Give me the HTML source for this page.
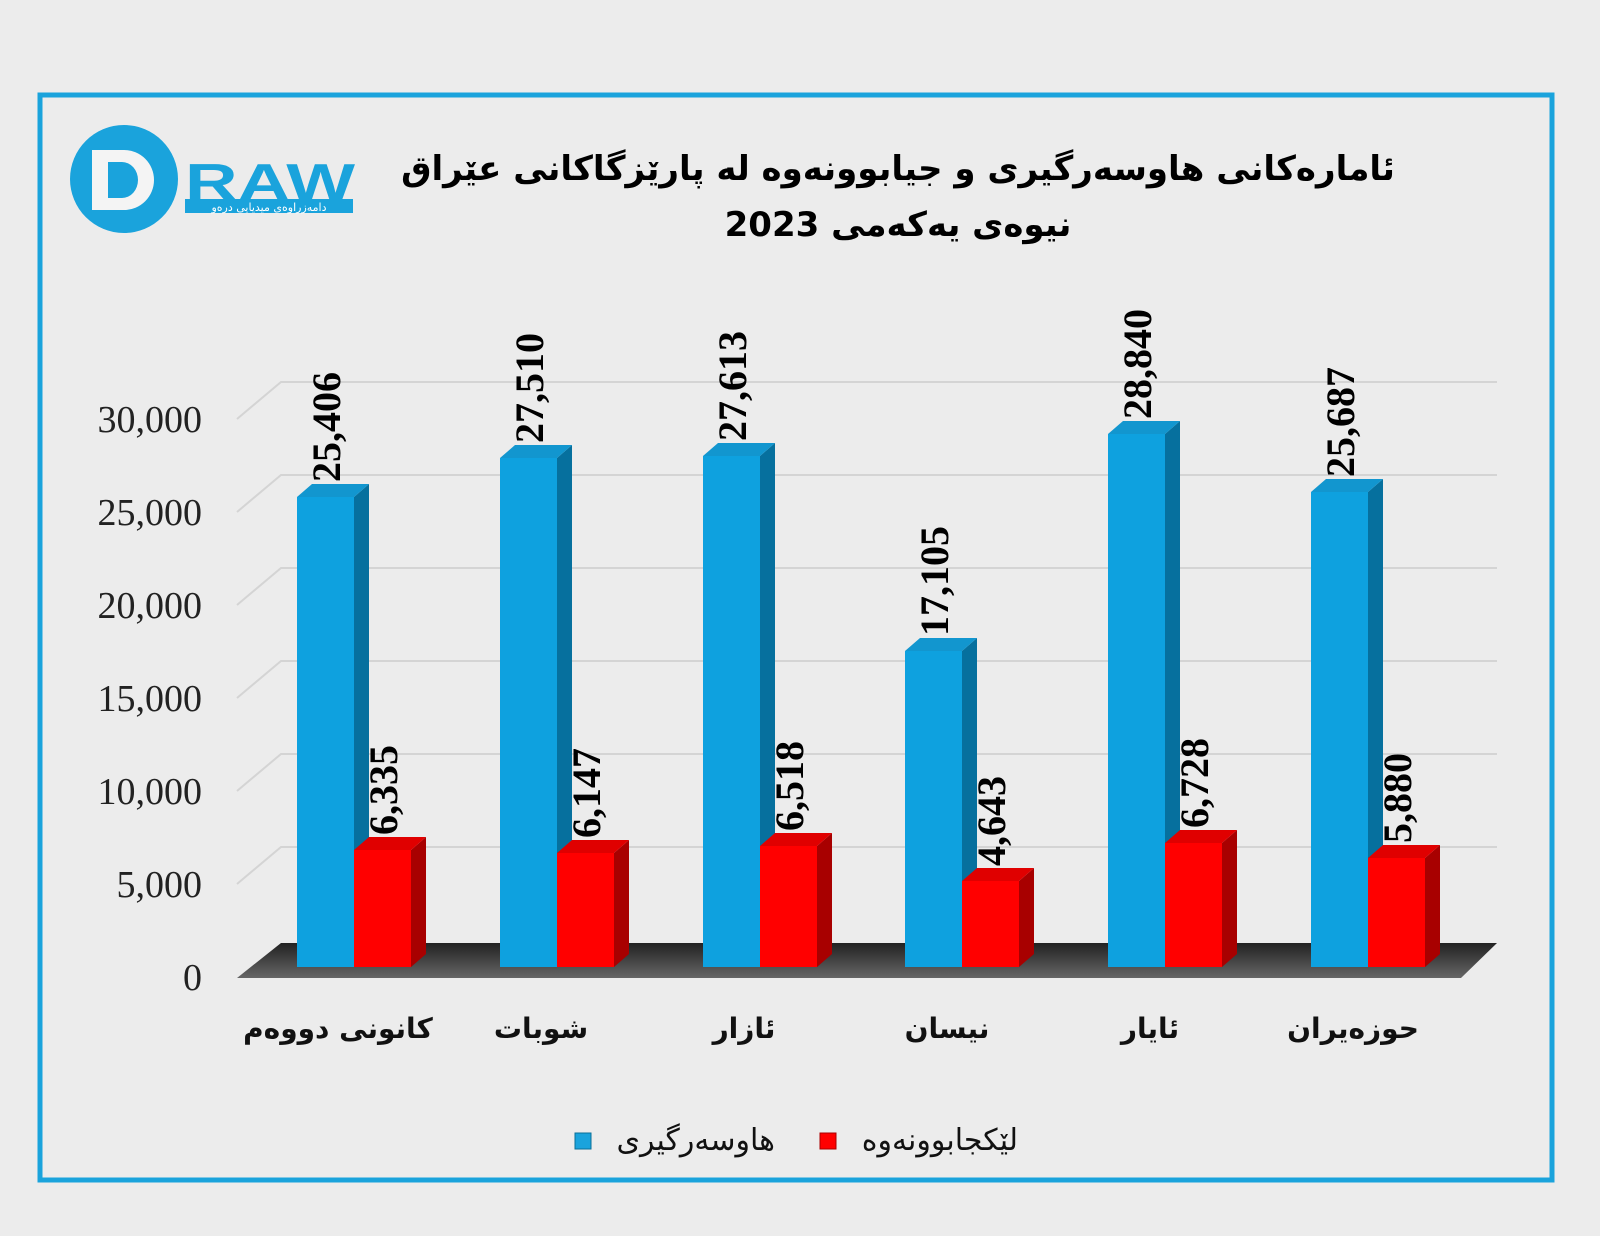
<!DOCTYPE html>
<html><head><meta charset="utf-8"><style>
html,body{margin:0;padding:0;background:#ececec;}
svg{display:block}
.ar{font-family:"DejaVu Sans","Liberation Sans","Noto Sans CJK SC",sans-serif;}
.num{font-family:"Liberation Serif",serif;font-weight:bold;font-size:40px;fill:#000;}
.yl{font-family:"Liberation Serif",serif;font-size:38px;fill:#222;}
.bs{fill:#06709e}.bt{fill:#1296cf}.bf{fill:#0ea1df}
.rs{fill:#a80000}.rt{fill:#e00000}.rf{fill:#ff0000}
</style></head><body>
<svg width="1600" height="1236" viewBox="0 0 1600 1236" xmlns="http://www.w3.org/2000/svg">
<defs>
<linearGradient id="fl" x1="0" y1="0" x2="0" y2="1"><stop offset="0" stop-color="#222"/><stop offset="1" stop-color="#666"/></linearGradient>
</defs>
<rect width="1600" height="1236" fill="#ececec"/>
<rect x="40" y="95" width="1512" height="1085" fill="#ececec" stroke="#1aa3dc" stroke-width="5"/>
<circle cx="124" cy="179" r="54" fill="#1aa3dc"/>
<path d="M92 150 h32 a28 28 0 0 1 0 60 h-32 z M108 162 v36 h14 a16 18 0 0 0 0 -36 z" fill="#f4f4f4"/>
<text x="185" y="200" font-family="Liberation Sans,sans-serif" font-weight="bold" font-size="52" fill="#1aa3dc" textLength="170" lengthAdjust="spacingAndGlyphs">RAW</text>
<rect x="185" y="199" width="168" height="14" fill="#1aa3dc"/>
<text x="269" y="211" text-anchor="middle" class="ar" font-size="11" fill="#fff">دامەزراوەی میدیایی درەو</text>
<text x="898" y="180" text-anchor="middle" class="ar" font-weight="bold" font-size="34" fill="#000">ئامارەکانی هاوسەرگیری و جیابوونەوە لە پارێزگاکانی عێراق</text>
<text x="898" y="236" text-anchor="middle" class="ar" font-weight="bold" font-size="34" fill="#000">نیوەی یەکەمی 2023</text>
<g stroke="#d4d4d4" stroke-width="2" fill="none">
<path d="M237 419 L281 382 H1497"/>
<path d="M237 512 L281 475 H1497"/>
<path d="M237 605 L281 568 H1497"/>
<path d="M237 698 L281 661 H1497"/>
<path d="M237 791 L281 754 H1497"/>
<path d="M237 884 L281 847 H1497"/>
</g>
<g class="yl" text-anchor="end">
<text x="202" y="432">30,000</text>
<text x="202" y="525">25,000</text>
<text x="202" y="618">20,000</text>
<text x="202" y="711">15,000</text>
<text x="202" y="804">10,000</text>
<text x="202" y="897">5,000</text>
<text x="202" y="990">0</text>
</g>
<polygon points="237,978 1461,978 1497,943 281,943" fill="url(#fl)"/>
<polygon class="bs" points="354,497 369,484 369,954 354,967"/><polygon class="bt" points="297,497 312,484 369,484 354,497"/><rect class="bf" x="297" y="497" width="57" height="470"/>
<polygon class="rs" points="411,850 426,837 426,954 411,967"/><polygon class="rt" points="354,850 369,837 426,837 411,850"/><rect class="rf" x="354" y="850" width="57" height="117"/>
<polygon class="bs" points="557,458 572,445 572,954 557,967"/><polygon class="bt" points="500,458 515,445 572,445 557,458"/><rect class="bf" x="500" y="458" width="57" height="509"/>
<polygon class="rs" points="614,853 629,840 629,954 614,967"/><polygon class="rt" points="557,853 572,840 629,840 614,853"/><rect class="rf" x="557" y="853" width="57" height="114"/>
<polygon class="bs" points="760,456 775,443 775,954 760,967"/><polygon class="bt" points="703,456 718,443 775,443 760,456"/><rect class="bf" x="703" y="456" width="57" height="511"/>
<polygon class="rs" points="817,846 832,833 832,954 817,967"/><polygon class="rt" points="760,846 775,833 832,833 817,846"/><rect class="rf" x="760" y="846" width="57" height="121"/>
<polygon class="bs" points="962,651 977,638 977,954 962,967"/><polygon class="bt" points="905,651 920,638 977,638 962,651"/><rect class="bf" x="905" y="651" width="57" height="316"/>
<polygon class="rs" points="1019,881 1034,868 1034,954 1019,967"/><polygon class="rt" points="962,881 977,868 1034,868 1019,881"/><rect class="rf" x="962" y="881" width="57" height="86"/>
<polygon class="bs" points="1165,434 1180,421 1180,954 1165,967"/><polygon class="bt" points="1108,434 1123,421 1180,421 1165,434"/><rect class="bf" x="1108" y="434" width="57" height="533"/>
<polygon class="rs" points="1222,843 1237,830 1237,954 1222,967"/><polygon class="rt" points="1165,843 1180,830 1237,830 1222,843"/><rect class="rf" x="1165" y="843" width="57" height="124"/>
<polygon class="bs" points="1368,492 1383,479 1383,954 1368,967"/><polygon class="bt" points="1311,492 1326,479 1383,479 1368,492"/><rect class="bf" x="1311" y="492" width="57" height="475"/>
<polygon class="rs" points="1425,858 1440,845 1440,954 1425,967"/><polygon class="rt" points="1368,858 1383,845 1440,845 1425,858"/><rect class="rf" x="1368" y="858" width="57" height="109"/>
<g class="num">
<text transform="translate(340,482) rotate(-90)">25,406</text>
<text transform="translate(397,835) rotate(-90)">6,335</text>
<text transform="translate(543,443) rotate(-90)">27,510</text>
<text transform="translate(600,838) rotate(-90)">6,147</text>
<text transform="translate(746,441) rotate(-90)">27,613</text>
<text transform="translate(803,831) rotate(-90)">6,518</text>
<text transform="translate(948,636) rotate(-90)">17,105</text>
<text transform="translate(1005,866) rotate(-90)">4,643</text>
<text transform="translate(1151,419) rotate(-90)">28,840</text>
<text transform="translate(1208,828) rotate(-90)">6,728</text>
<text transform="translate(1354,477) rotate(-90)">25,687</text>
<text transform="translate(1411,843) rotate(-90)">5,880</text>
</g>
<g class="ar" font-weight="bold" font-size="28" fill="#111" text-anchor="middle">
<text x="338" y="1038">کانونی دووەم</text>
<text x="541" y="1038">شوبات</text>
<text x="744" y="1038">ئازار</text>
<text x="947" y="1038">نیسان</text>
<text x="1150" y="1038">ئایار</text>
<text x="1353" y="1038">حوزەیران</text>
</g>
<rect x="575" y="1133" width="16" height="16" fill="#1aa3dc" stroke="#0a6f99"/>
<text x="775" y="1150" text-anchor="end" class="ar" font-size="30" fill="#111">هاوسەرگیری</text>
<rect x="820" y="1133" width="16" height="16" fill="#f00" stroke="#a00"/>
<text x="1018" y="1150" text-anchor="end" class="ar" font-size="30" fill="#111">لێکجابوونەوە</text>
</svg>
</body></html>
